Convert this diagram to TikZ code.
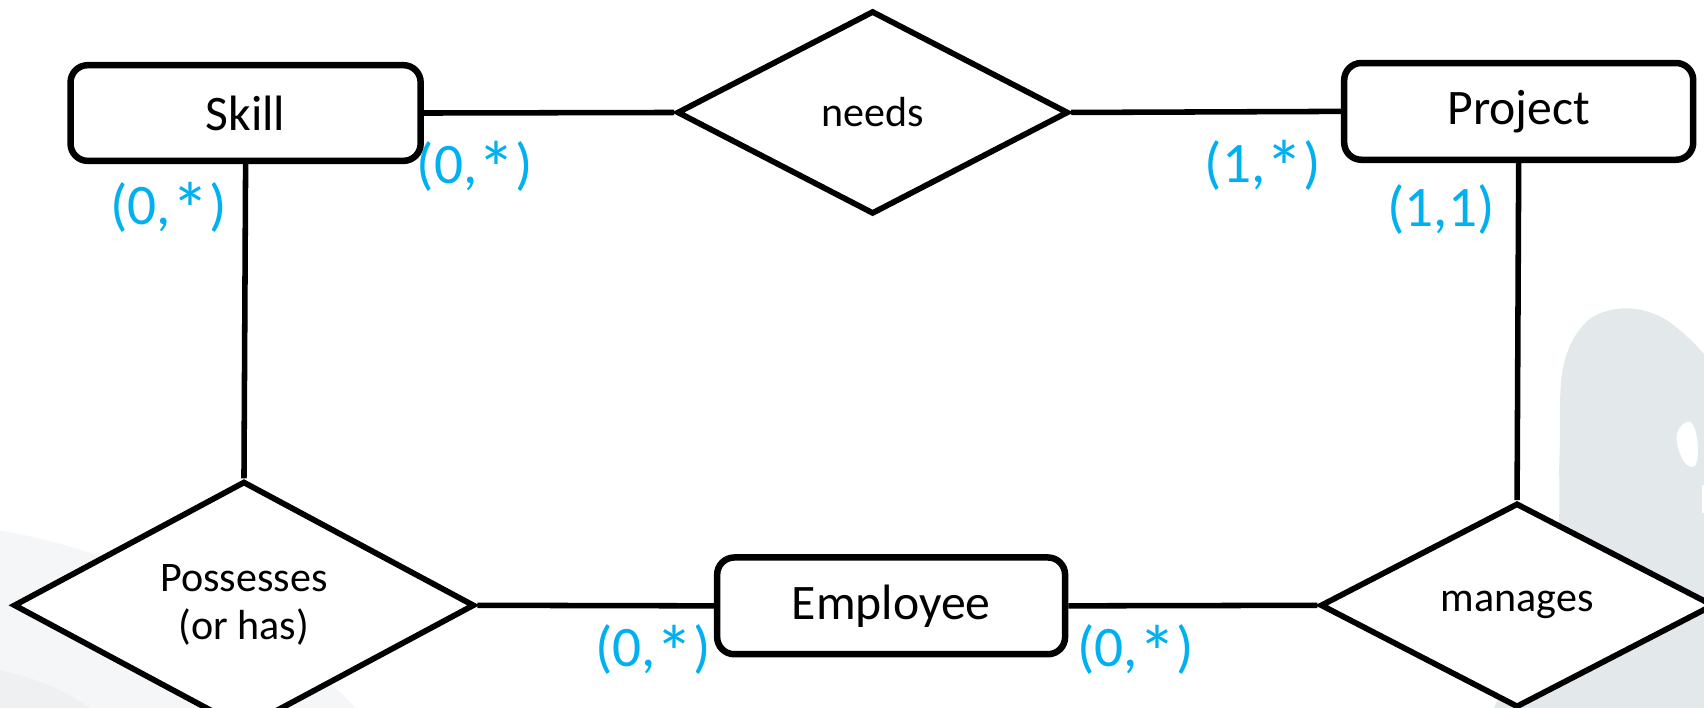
\documentclass[tikz,border=0pt]{standalone}
\usepackage{fontspec}
\setmainfont{Carlito}
\usetikzlibrary{shapes.geometric}
\definecolor{card}{HTML}{00B0F0}
\definecolor{wmgray}{HTML}{E3E8EA}
\definecolor{wmfaint}{HTML}{F5F6F8}
\definecolor{wmfaint2}{HTML}{EEF0F2}
\newcommand{\cardast}{\raisebox{-0.45ex}{\fontsize{20}{18}\selectfont *}}
\tikzset{
  entity/.style={draw=black, line width=1.7pt, rounded corners=4.5pt, fill=white,
    inner sep=0pt, font=\fontsize{13}{15}\selectfont},
  relation/.style={draw=black, line width=1.5pt, diamond, fill=white, inner sep=0pt,
    align=center, font=\fontsize{11}{12.6}\selectfont},
  conn/.style={draw=black, line width=1.45pt},
  cardlabel/.style={text=card, inner sep=0pt, font=\fontsize{15}{18}\selectfont}
}
\begin{document}
\begin{tikzpicture}[x=0.01cm, y=-0.01cm]
\useasboundingbox (0,0) rectangle (1568,651.5);
% background watermark
\fill[wmfaint] (0,488) .. controls (150,515) and (280,595) .. (335,660) -- (0,660) -- cycle;
\fill[wmfaint2] (0,617) .. controls (40,625) and (70,640) .. (92,660) -- (0,660) -- cycle;
\fill[wmgray] plot[smooth, tension=0.6] coordinates {(1371,660) (1405,580) (1432,500) (1435,420) (1438,340) (1458,298) (1490,284) (1525,290) (1555,312) (1580,340)} -- (1580,660) -- cycle;
\fill[white] plot[smooth cycle, tension=0.7] coordinates {(1543,400) (1555,388) (1562,406) (1560,428) (1549,424)};
\fill[white] (1566,446) rectangle (1570,472);
% entities
\node[entity, minimum width=3.22cm, minimum height=0.88cm] (skill) at (226,104) {Skill};
\node[entity, minimum width=3.21cm, minimum height=0.89cm] (project) at (1397.5,102.5) {Project};
\node[entity, minimum width=3.20cm, minimum height=0.89cm] (employee) at (820,557.5) {Employee};
% relationships
\node[relation, minimum width=3.60cm, minimum height=1.87cm] (needs) at (803,103.5) {needs};
\node[relation, minimum width=4.24cm, minimum height=1.86cm] (possesses) at (224.5,557) {Possesses\\(or has)};
\node[relation, minimum width=3.62cm, minimum height=1.88cm] (manages) at (1396,557) {manages};
% connectors
\draw[conn] (skill.east) -- (needs.west);
\draw[conn] (needs.east) -- (project.west);
\draw[conn] (skill.south) -- (possesses.north);
\draw[conn] (project.south) -- (manages.north);
\draw[conn] (possesses.east) -- (employee.west);
\draw[conn] (employee.east) -- (manages.west);
% cardinalities
\node[cardlabel] (c1) at (437,155) {(0,\cardast)};
\node[cardlabel] (c2) at (155,193) {(0,\cardast)};
\node[cardlabel] (c3) at (1162,154) {(1,\cardast)};
\node[cardlabel] (c4) at (1326,193) {(1,1)};
\node[cardlabel] (c5) at (601,600) {(0,\cardast)};
\node[cardlabel] (c6) at (1045,600) {(0,\cardast)};
\end{tikzpicture}
\end{document}
